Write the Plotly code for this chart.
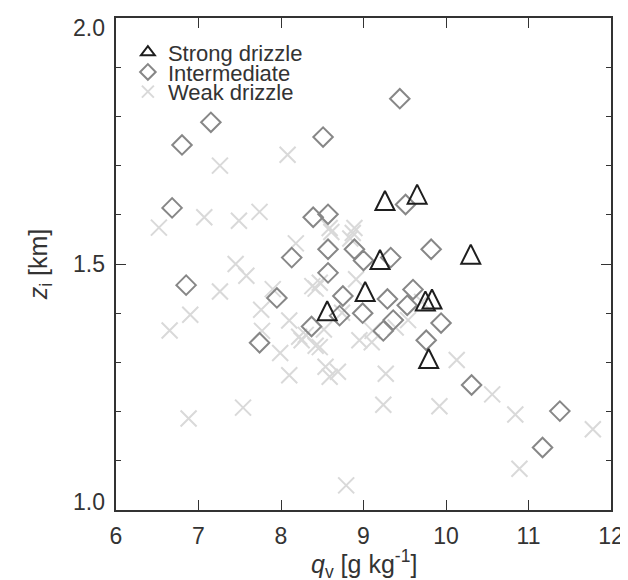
import plotly.graph_objects as go

# Strong drizzle (triangles)
strong_x = [9.26, 9.65, 10.30, 9.20, 9.02, 8.56, 9.75, 9.83, 9.79]
strong_y = [1.629, 1.642, 1.520, 1.509, 1.444, 1.405, 1.425, 1.429, 1.308]

# Intermediate (diamonds)
inter_x = [9.44, 7.15, 6.80, 8.51, 6.68, 9.51, 8.39, 8.57, 8.57, 8.89, 9.00,
           9.33, 8.13, 9.82, 8.57, 6.85, 7.95, 8.75, 8.71, 9.29, 9.60, 9.53,
           8.99, 9.36, 9.24, 8.37, 9.94, 9.76, 7.74, 10.31, 11.38, 11.17]
inter_y = [1.836, 1.788, 1.742, 1.758, 1.614, 1.621, 1.595, 1.601, 1.530, 1.530, 1.507,
           1.513, 1.513, 1.530, 1.482, 1.457, 1.431, 1.435, 1.395, 1.429, 1.448, 1.416,
           1.400, 1.386, 1.364, 1.373, 1.380, 1.345, 1.340, 1.254, 1.201, 1.127]

# Weak drizzle (crosses)
weak_x = [6.52, 6.65, 6.90, 6.88, 7.07, 7.26, 7.26, 7.49, 7.74, 7.45, 7.58, 7.54,
          7.76, 7.90, 7.77, 8.08, 8.18, 8.10, 7.99, 8.10, 8.25, 8.30, 8.38, 8.42,
          8.47, 8.52, 8.59, 8.61, 8.42, 8.54, 8.47, 8.59, 8.69, 8.74, 8.87, 8.84,
          8.89, 8.91, 8.95, 8.79, 9.11, 9.10, 9.27, 9.24, 9.39, 9.54, 9.71, 10.13,
          9.92, 10.56, 10.84, 10.89, 11.78, 8.22]
weak_y = [1.574, 1.365, 1.397, 1.186, 1.595, 1.700, 1.444, 1.588, 1.606, 1.500, 1.476, 1.208,
          1.407, 1.449, 1.364, 1.722, 1.542, 1.385, 1.319, 1.274, 1.345, 1.356, 1.455, 1.450,
          1.462, 1.367, 1.573, 1.565, 1.334, 1.291, 1.331, 1.271, 1.281, 1.401, 1.563, 1.552,
          1.573, 1.469, 1.345, 1.050, 1.364, 1.341, 1.277, 1.214, 1.371, 1.386, 1.423, 1.305,
          1.211, 1.235, 1.194, 1.084, 1.164, 1.352]

x_ticks = [6, 7, 8, 9, 10, 11, 12]
y_major_ticks = [1.0, 1.5, 2.0]
y_tick_text = ["1.0", "1.5", "2.0"]
# end labels are nudged inside the frame (as in the original figure)
y_label_pos = [1.016, 1.5, 1.98]

x_title = "<i>q</i><sub>v</sub> [g kg<sup>-1</sup>]"
y_title = "<i>z</i><sub>i</sub> [km]"

TXT = "#333333"
FONT = "Liberation Sans, Arial, Helvetica, sans-serif"
C_STRONG, C_INTER, C_WEAK = "#1e1e1e", "#878787", "#d9d9d9"

fig = go.Figure()
fig.add_trace(go.Scatter(
    x=weak_x, y=weak_y, mode="markers", name="Weak drizzle", legend="legend3",
    marker=dict(symbol="x-thin-open", size=16, color=C_WEAK,
                line=dict(color=C_WEAK, width=2))))
fig.add_trace(go.Scatter(
    x=inter_x, y=inter_y, mode="markers", name="Intermediate", legend="legend2",
    marker=dict(symbol="diamond-open", size=15, color=C_INTER,
                line=dict(color=C_INTER, width=2))))
# taller, centred triangles on the plot
fig.add_trace(go.Scatter(
    x=strong_x, y=strong_y, mode="markers", name="Strong drizzle", showlegend=False,
    legendgroup="strong",
    marker=dict(symbol="arrow-down-open", angle=180, size=19, standoff=9.5,
                color=C_STRONG, line=dict(color=C_STRONG, width=2))))
# legend entry for the triangles
fig.add_trace(go.Scatter(
    x=[None], y=[None], mode="markers", name="Strong drizzle", legend="legend",
    legendgroup="strong",
    marker=dict(symbol="triangle-up-open", size=12, color=C_STRONG,
                line=dict(color=C_STRONG, width=2))))
# invisible helper so the label axis is drawn
fig.add_trace(go.Scatter(x=[6], y=[1.0], yaxis="y2", mode="markers",
                         marker=dict(opacity=0), showlegend=False, hoverinfo="skip"))

leg_common = dict(x=0.024, xanchor="left", yanchor="middle", bgcolor="rgba(0,0,0,0)",
                  font=dict(size=22, color=TXT, family=FONT), itemsizing="constant",
                  borderwidth=0)
fig.update_layout(
    width=628, height=580,
    margin=dict(l=108, r=25, t=7, b=78),
    paper_bgcolor="white", plot_bgcolor="white",
    font=dict(family=FONT, color=TXT, size=22),
    showlegend=True,
    legend=dict(y=0.930, **leg_common),
    legend2=dict(y=0.890, **leg_common),
    legend3=dict(y=0.850, **leg_common),
    xaxis=dict(
        range=[6, 12], tickvals=x_ticks, ticks="inside", ticklen=10, tickwidth=1.3,
        tickcolor=TXT, showline=True, linecolor=TXT, linewidth=1.5, mirror="ticks",
        showgrid=False, zeroline=False, tickfont=dict(size=23, color=TXT),
        ticklabelstandoff=5,
    ),
    yaxis=dict(
        range=[1.0, 2.0], tickvals=y_major_ticks, showticklabels=False, ticks="inside",
        ticklen=10, tickwidth=1.3, tickcolor=TXT, showline=True, linecolor=TXT,
        linewidth=1.5, mirror="ticks", showgrid=False, zeroline=False,
        minor=dict(dtick=0.1, tick0=1.0, ticks="inside", ticklen=5, tickwidth=1.3,
                   tickcolor=TXT, showgrid=False),
    ),
    yaxis2=dict(
        range=[1.0, 2.0], overlaying="y", side="left", anchor="x",
        tickvals=y_label_pos, ticktext=y_tick_text, ticks="", showline=False,
        showgrid=False, zeroline=False, tickfont=dict(size=23, color=TXT),
        ticklabelstandoff=10,
        title=dict(text=y_title, font=dict(size=25, color=TXT), standoff=18),
    ),
    annotations=[dict(
        text=x_title, xref="paper", yref="paper", x=0.5, y=-0.110,
        xanchor="center", yanchor="middle", showarrow=False,
        font=dict(size=25, color=TXT, family=FONT))],
)

fig.write_html("out.html")
